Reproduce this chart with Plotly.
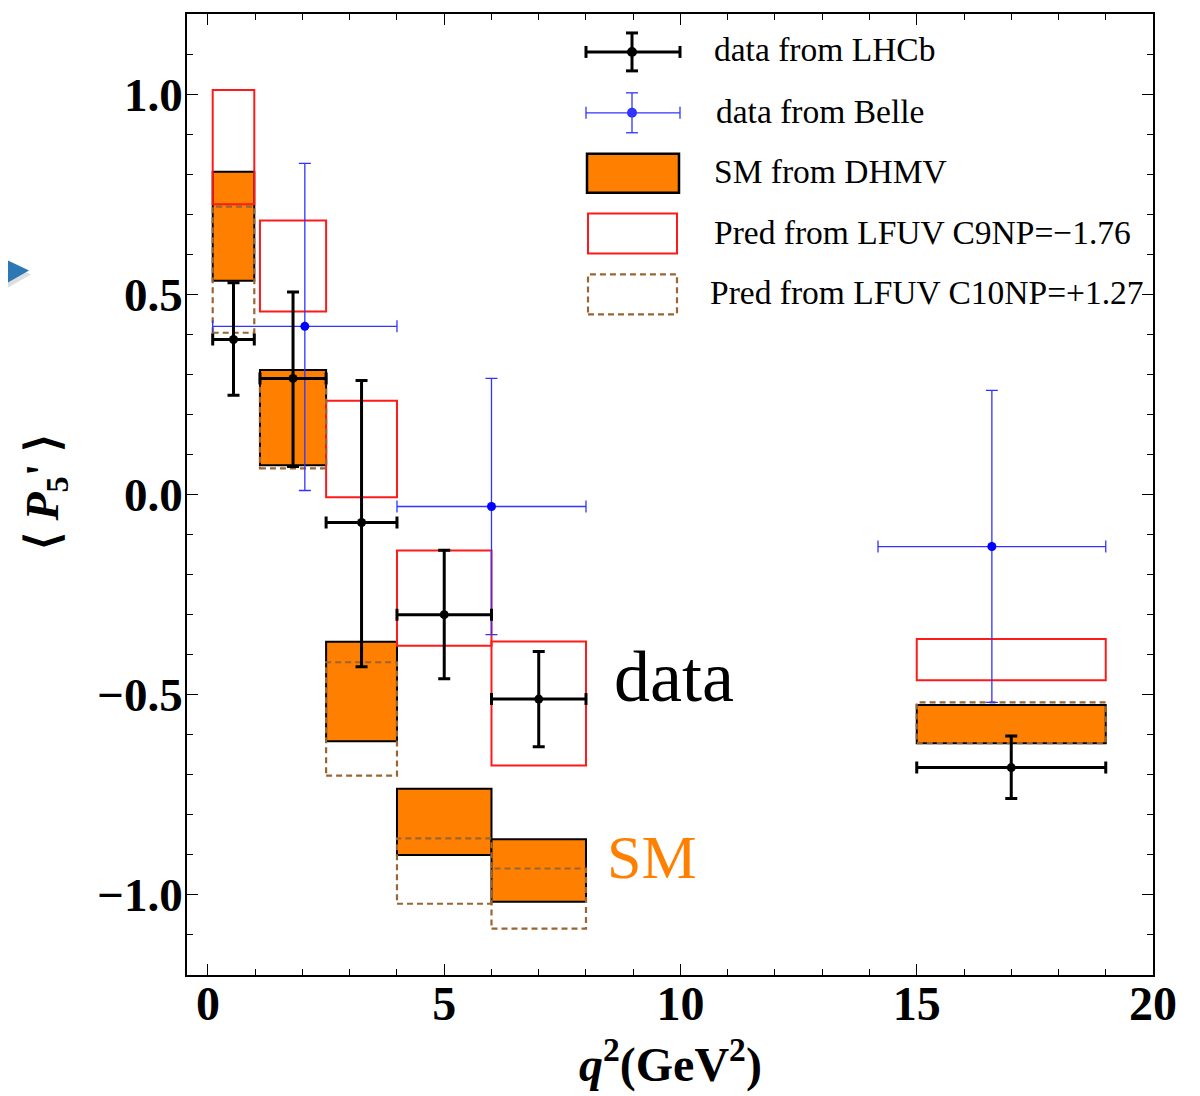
import plotly.graph_objects as go

# q^2 bins (GeV^2)
bin_lo = [0.1, 1.1, 2.5, 4.0, 6.0, 15.0]
bin_hi = [0.98, 2.5, 4.0, 6.0, 8.0, 19.0]

# LHCb <P5'> measurements
lhcb_val = [0.387, 0.29, -0.07, -0.30, -0.511, -0.682]
lhcb_up = [0.142, 0.216, 0.355, 0.161, 0.119, 0.079]
lhcb_dn = [0.139, 0.22, 0.36, 0.16, 0.119, 0.077]

# Belle measurements
belle_lo = [0.1, 4.0, 14.18]
belle_hi = [4.0, 8.0, 19.0]
belle_val = [0.42, -0.03, -0.13]
belle_up = [0.407, 0.32, 0.39]
belle_dn = [0.41, 0.32, 0.389]

# SM (DHMV) band
sm_top = [0.806, 0.311, -0.368, -0.735, -0.861, -0.526]
sm_bot = [0.534, 0.073, -0.616, -0.900, -1.017, -0.621]

# LFUV C9NP = -1.76 prediction
c9_top = [1.010, 0.684, 0.234, -0.140, -0.367, -0.361]
c9_bot = [0.725, 0.457, -0.007, -0.378, -0.677, -0.464]

# LFUV C10NP = +1.27 prediction
c10_top = [0.719, 0.289, -0.419, -0.859, -0.934, -0.519]
c10_bot = [0.404, 0.065, -0.702, -1.022, -1.084, -0.621]

legend_labels = ["data from LHCb", "data from Belle", "SM from DHMV",
                 "Pred from LFUV C9NP=\u22121.76", "Pred from LFUV C10NP=+1.27"]

ORANGE = "#ff7f00"
BROWN = "#996633"
SERIF = "Liberation Serif"

# page body has an 8px margin, so the figure is shrunk by that much
OFF = 8
W, H = 1200 - OFF, 1096 - OFF
# plot area in page pixels
PL, PR, PT, PB = 187, 1153, 12, 975


def px(xp):
    return (xp - PL) / (PR - PL)


def py(yp):
    return (PB - yp) / (PB - PT)


fig = go.Figure()
shapes = []

# boxes: SM first, predictions drawn over it
for lo, hi, top, bot in zip(bin_lo, bin_hi, sm_top, sm_bot):
    shapes.append(dict(type="rect", xref="x", yref="y", x0=lo, x1=hi, y0=bot, y1=top,
                       fillcolor=ORANGE, line=dict(color="black", width=2), layer="below"))
for lo, hi, top, bot in zip(bin_lo, bin_hi, c9_top, c9_bot):
    shapes.append(dict(type="rect", xref="x", yref="y", x0=lo, x1=hi, y0=bot, y1=top,
                       line=dict(color="#ff1a1a", width=2), layer="below"))
for lo, hi, top, bot in zip(bin_lo, bin_hi, c10_top, c10_bot):
    shapes.append(dict(type="rect", xref="x", yref="y", x0=lo, x1=hi, y0=bot, y1=top,
                       line=dict(color=BROWN, width=2.2, dash="6px,4px"), layer="below"))

lhcb_x = [(a + b) / 2 for a, b in zip(bin_lo, bin_hi)]
belle_x = [(a + b) / 2 for a, b in zip(belle_lo, belle_hi)]

fig.add_trace(go.Scatter(
    x=belle_x, y=belle_val, mode="markers",
    marker=dict(color="#0000ff", size=9),
    error_y=dict(type="data", symmetric=False, array=belle_up, arrayminus=belle_dn,
                 color="#3333ff", thickness=1.3, width=6),
    error_x=dict(type="data", symmetric=False,
                 array=[h - c for h, c in zip(belle_hi, belle_x)],
                 arrayminus=[c - l for l, c in zip(belle_lo, belle_x)],
                 color="#3333ff", thickness=1.3, width=6),
    showlegend=False, hoverinfo="skip"))

fig.add_trace(go.Scatter(
    x=lhcb_x, y=lhcb_val, mode="markers",
    marker=dict(color="black", size=9),
    error_y=dict(type="data", symmetric=False, array=lhcb_up, arrayminus=lhcb_dn,
                 color="black", thickness=3, width=6),
    error_x=dict(type="data", symmetric=False,
                 array=[h - c for h, c in zip(bin_hi, lhcb_x)],
                 arrayminus=[c - l for l, c in zip(bin_lo, lhcb_x)],
                 color="black", thickness=3, width=6),
    showlegend=False, hoverinfo="skip"))


# hand-made legend in the top right corner
def err_icon(yc, color, lw, half_h):
    out = []
    out.append(dict(type="line", xref="paper", yref="paper", x0=px(586), x1=px(680),
                    y0=py(yc), y1=py(yc), line=dict(color=color, width=lw)))
    out.append(dict(type="line", xref="paper", yref="paper", x0=px(632), x1=px(632),
                    y0=py(yc - half_h), y1=py(yc + half_h), line=dict(color=color, width=lw)))
    for xe in (586, 680):
        out.append(dict(type="line", xref="paper", yref="paper", x0=px(xe), x1=px(xe),
                        y0=py(yc - 6), y1=py(yc + 6), line=dict(color=color, width=lw)))
    for ye in (yc - half_h, yc + half_h):
        out.append(dict(type="line", xref="paper", yref="paper", x0=px(626), x1=px(638),
                        y0=py(ye), y1=py(ye), line=dict(color=color, width=lw)))
    out.append(dict(type="circle", xref="paper", yref="paper", x0=px(627), x1=px(637),
                    y0=py(yc + 5), y1=py(yc - 5), fillcolor=color, line=dict(width=0)))
    return out


shapes += err_icon(50, "black", 3, 19)
shapes += err_icon(111, "#3333ff", 1.3, 20)
shapes.append(dict(type="rect", xref="paper", yref="paper", x0=px(587), x1=px(679),
                   y0=py(191), y1=py(152), fillcolor=ORANGE, line=dict(color="black", width=2.5)))
shapes.append(dict(type="rect", xref="paper", yref="paper", x0=px(588), x1=px(677),
                   y0=py(252), y1=py(212), line=dict(color="#ff1a1a", width=2)))
shapes.append(dict(type="rect", xref="paper", yref="paper", x0=px(588), x1=px(677),
                   y0=py(313), y1=py(273), line=dict(color=BROWN, width=2.2, dash="6px,4px")))

# blue slide arrow at the far left (its tail is cut by the page edge)
shapes.append(dict(type="path", xref="paper", yref="paper",
                   path=f"M {px(8)},{py(263)} L {px(31)},{py(273)} L {px(8)},{py(286)} Z",
                   fillcolor="rgba(0,0,0,0.13)", line=dict(width=0)))
shapes.append(dict(type="path", xref="paper", yref="paper",
                   path=f"M {px(8)},{py(259)} L {px(29)},{py(269)} L {px(8)},{py(281)} Z",
                   fillcolor="#2b78b4", line=dict(width=0)))

annotations = []
for label, xl, yl in zip(legend_labels, [712, 714, 712, 712, 708], [48, 110, 170, 231, 291]):
    annotations.append(dict(text=label, xref="paper", yref="paper", x=px(xl), y=py(yl),
                            xanchor="left", yanchor="middle", showarrow=False,
                            font=dict(family=SERIF, size=33.5, color="black")))

annotations.append(dict(text="data", xref="x", yref="y", x=8.55, y=-0.455,
                        xanchor="left", yanchor="middle", showarrow=False,
                        font=dict(family=SERIF, size=72, color="black")))
annotations.append(dict(text="SM", xref="x", yref="y", x=8.4, y=-0.905,
                        xanchor="left", yanchor="middle", showarrow=False,
                        font=dict(family=SERIF, size=62, color=ORANGE)))

annotations.append(dict(text="\u27e8 <i>P</i><sub>5</sub>' \u27e9", xref="paper", yref="paper",
                        x=px(46), y=py(491), textangle=-90, showarrow=False,
                        xanchor="center", yanchor="middle",
                        font=dict(family=SERIF, size=46, color="black", weight="bold")))
annotations.append(dict(text="<i>q</i><sup>2</sup>(GeV<sup>2</sup>)", xref="paper", yref="paper",
                        x=px(670), y=py(1062), showarrow=False,
                        xanchor="center", yanchor="middle",
                        font=dict(family=SERIF, size=48, color="black", weight="bold")))

axis_common = dict(showline=True, linecolor="black", linewidth=1.5, mirror="allticks",
                   ticks="inside", tickcolor="black", tickwidth=1.2, ticklen=11,
                   showgrid=False, zeroline=False)

fig.update_layout(
    width=W, height=H,
    margin=dict(l=PL - OFF, r=W - (PR - OFF), t=PT - OFF, b=H - (PB - OFF)),
    paper_bgcolor="white", plot_bgcolor="white",
    shapes=shapes, annotations=annotations,
    xaxis=dict(range=[-0.444, 20], tick0=0, dtick=5, ticklabelstandoff=-14,
               minor=dict(dtick=1, ticks="inside", ticklen=6, tickcolor="black", tickwidth=1),
               tickfont=dict(family=SERIF, size=48, color="black", weight="bold"),
               **axis_common),
    yaxis=dict(range=[-1.2, 1.2], tick0=0, dtick=0.5, tickformat=".1f", ticklabelstandoff=-7,
               minor=dict(dtick=0.1, ticks="inside", ticklen=6, tickcolor="black", tickwidth=1),
               tickfont=dict(family=SERIF, size=47, color="black", weight="bold"),
               **axis_common),
)

fig.write_html("out.html")
